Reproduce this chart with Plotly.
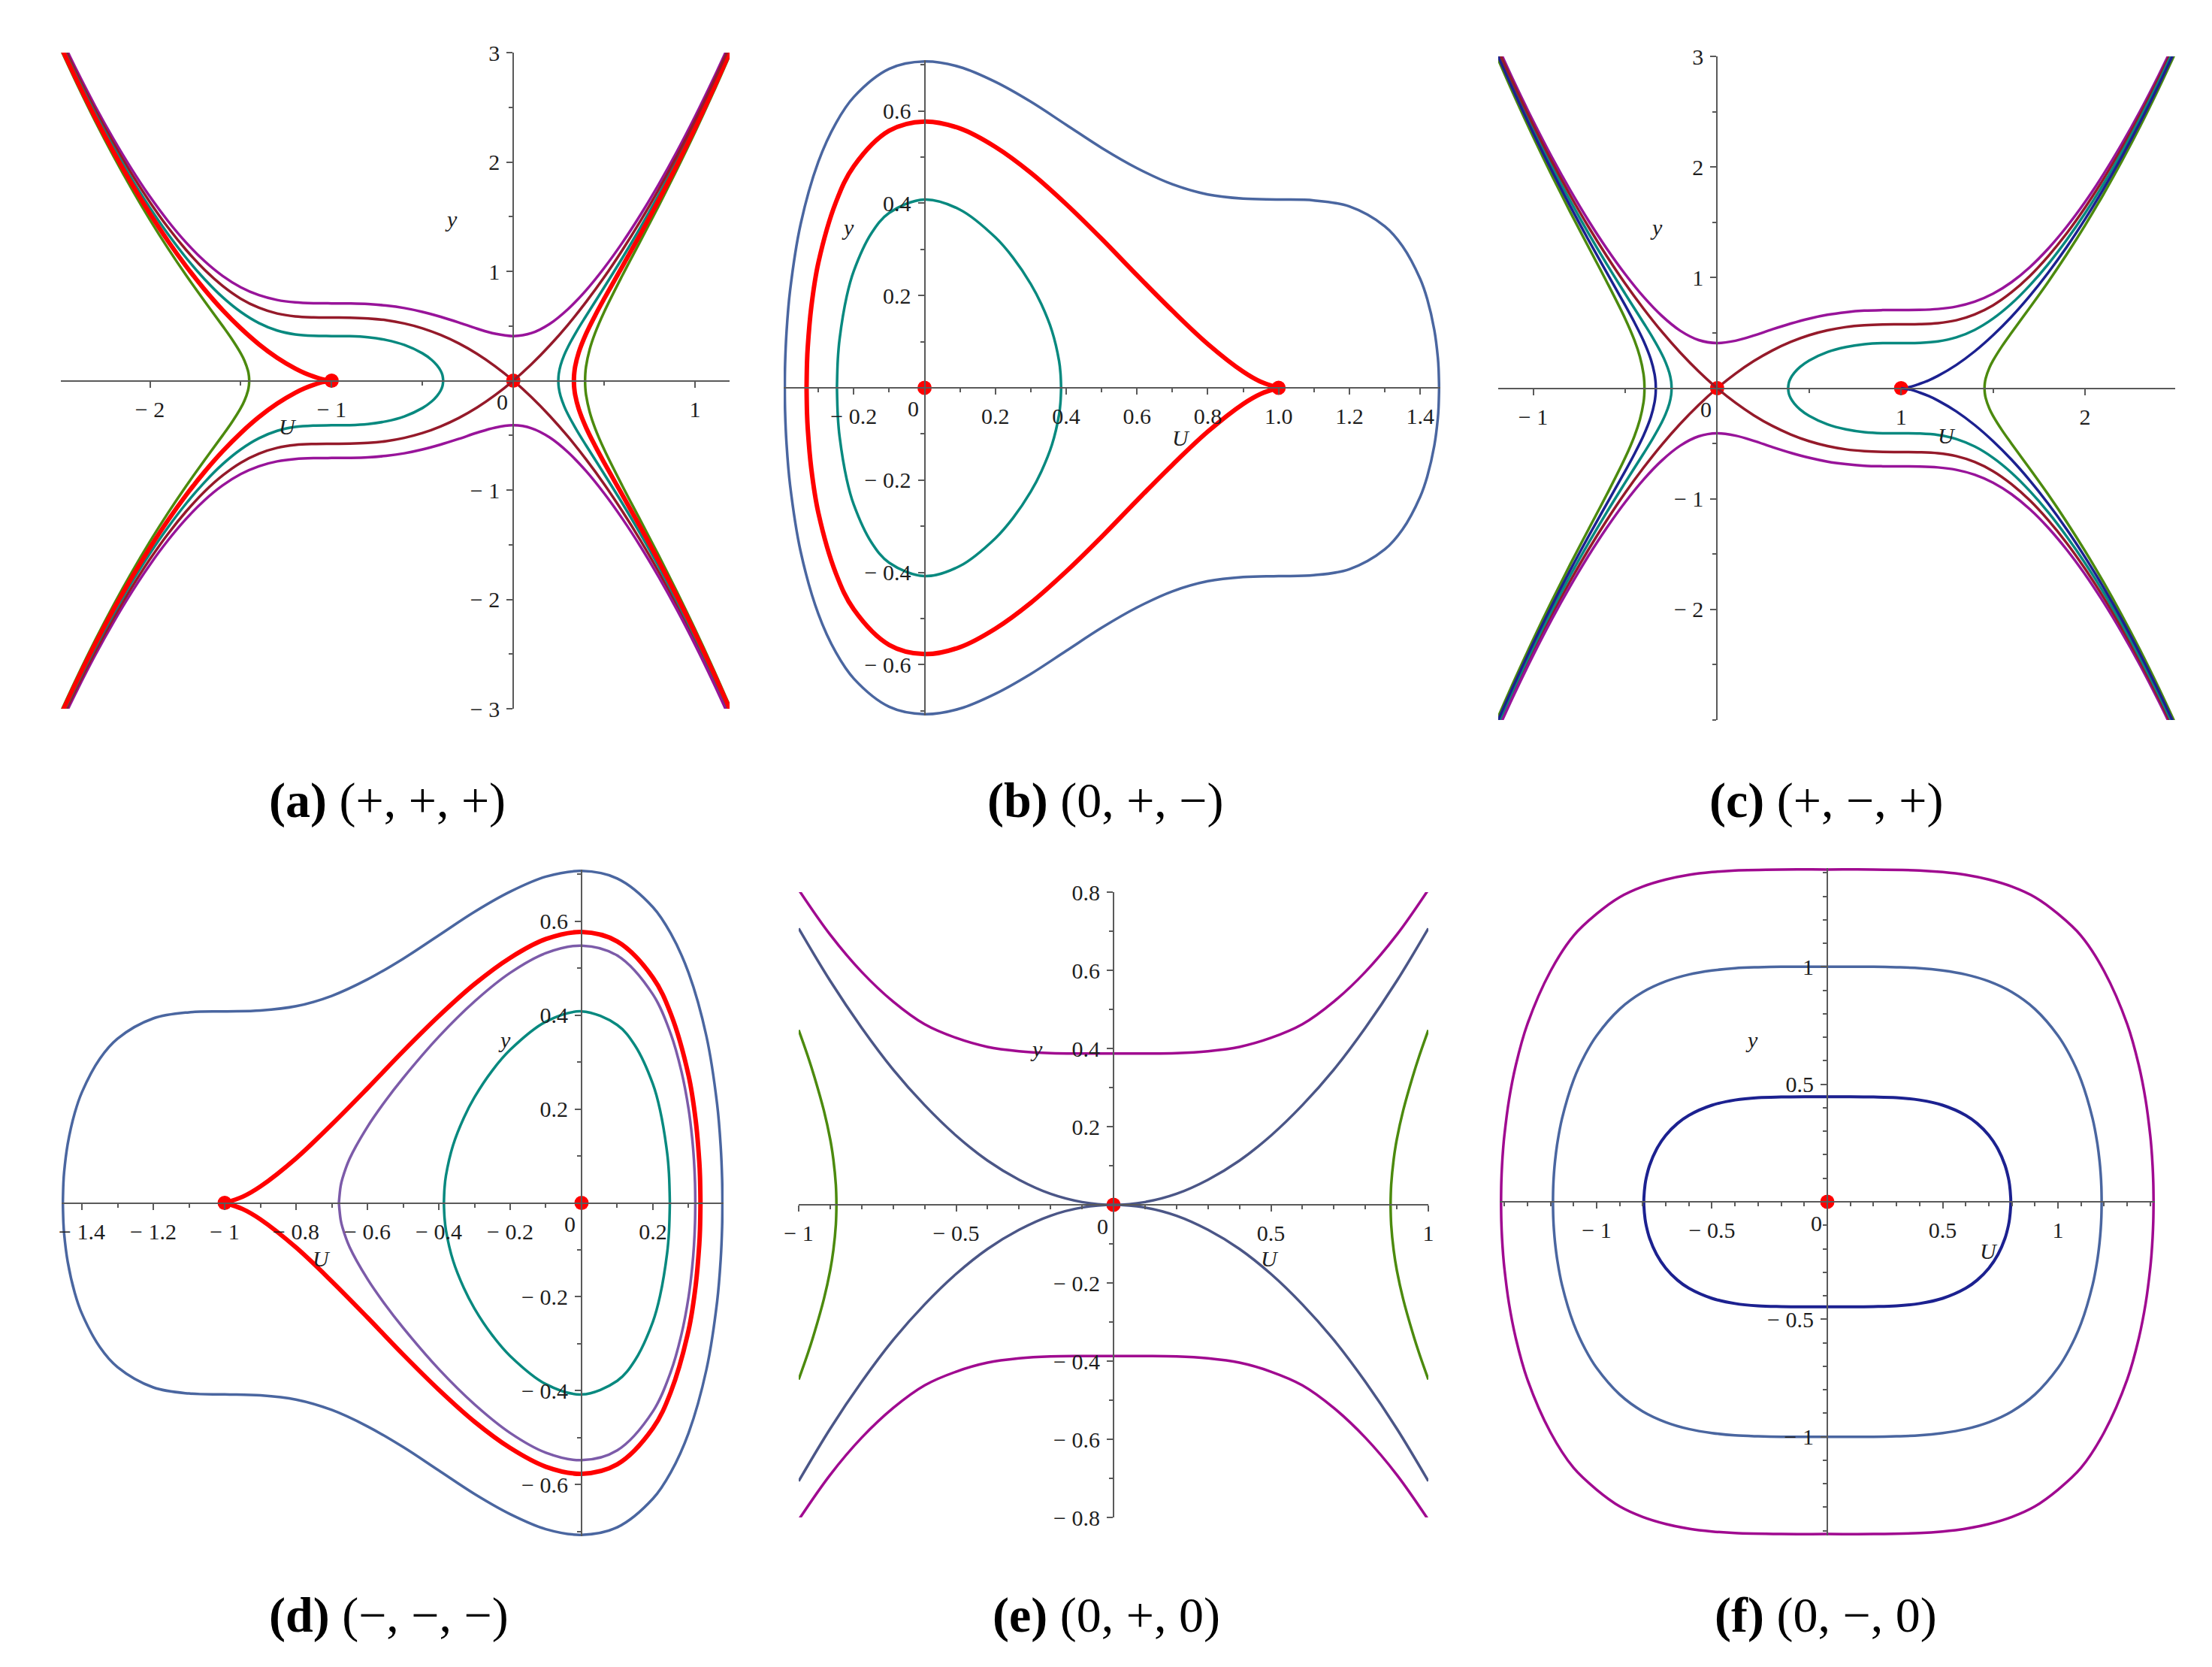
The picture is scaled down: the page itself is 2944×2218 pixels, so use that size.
import plotly.graph_objects as go

W, H = 2944, 2218

# colours
PURPLE = "#98149a"
MAROON = "#951a2a"
TEAL = "#08897f"
RED = "#ff0000"
GREEN = "#4c8a0e"
NAVY = "#1c2190"
STEEL = "#4a66a0"
VIOLET = "#7c5ba9"
SLATE = "#4b5687"
MAGENTA = "#a00a90"
AXIS = "#5a5a5a"
TEXT = "#1e1e1e"
FONT = "Liberation Serif"
THIN, THICK = 3.5, 6

# ---------------------------------------------------------------------------
# Curve data (U, y). Only the upper half of every orbit is listed; the
# lower half is the mirror image and is drawn on a flipped y axis.
# ---------------------------------------------------------------------------

# (a) (+, +, +)
A_PURPLE = [(-2.5, 3.172), (-2.4, 2.829), (-2.3, 2.507), (-2.2, 2.209), (-2.1, 1.934), (-2.0, 1.683),
            (-1.9, 1.459), (-1.8, 1.262), (-1.7, 1.094), (-1.6, 0.958), (-1.5, 0.854), (-1.4, 0.782),
            (-1.3, 0.738), (-1.2, 0.716), (-1.1, 0.708), (-1.0, 0.707), (-0.9, 0.706), (-0.8, 0.701),
            (-0.7, 0.687), (-0.6, 0.664), (-0.5, 0.629), (-0.4, 0.584), (-0.3, 0.532), (-0.2, 0.476),
            (-0.1, 0.429), (0.0, 0.408), (0.1, 0.435), (0.2, 0.519), (0.3, 0.653), (0.4, 0.826),
            (0.5, 1.031), (0.6, 1.262), (0.7, 1.517), (0.8, 1.795), (0.9, 2.094), (1.0, 2.415),
            (1.1, 2.757), (1.2, 3.119)]
A_MAROON = [(-2.5, 3.146), (-2.4, 2.799), (-2.3, 2.474), (-2.2, 2.171), (-2.1, 1.890), (-2.0, 1.633),
            (-1.9, 1.400), (-1.8, 1.194), (-1.7, 1.015), (-1.6, 0.867), (-1.5, 0.750), (-1.4, 0.667),
            (-1.3, 0.614), (-1.2, 0.588), (-1.1, 0.579), (-1.0, 0.577), (-0.9, 0.576), (-0.8, 0.569),
            (-0.7, 0.553), (-0.6, 0.523), (-0.5, 0.479), (-0.4, 0.418), (-0.3, 0.341), (-0.2, 0.246),
            (-0.1, 0.132), (0.0, 0.0), (0.1, -0.151), (0.2, -0.321), (0.3, -0.510), (0.4, -0.719),
            (0.5, -0.946), (0.6, -1.194), (0.7, -1.461), (0.8, -1.748), (0.9, -2.054), (1.0, -2.380),
            (1.1, -2.726), (1.2, -3.092)]
A_TEAL_L = [(-2.5, 3.119), (-2.4, 2.769), (-2.3, 2.440), (-2.2, 2.132), (-2.1, 1.845), (-2.0, 1.581),
            (-1.9, 1.340), (-1.8, 1.122), (-1.7, 0.930), (-1.6, 0.764), (-1.5, 0.629), (-1.4, 0.527),
            (-1.3, 0.459), (-1.2, 0.423), (-1.1, 0.410), (-1.0, 0.408), (-0.9, 0.407), (-0.8, 0.397),
            (-0.7, 0.372), (-0.6, 0.327), (-0.5, 0.250), (-0.45, 0.191), (-0.42, 0.140), (-0.40, 0.091),
            (-0.39, 0.050), (-0.386, 0.0)]
A_TEAL_R = [(0.2475, 0.0), (0.25, 0.062), (0.26, 0.141), (0.28, 0.234), (0.3, 0.306), (0.35, 0.456),
            (0.4, 0.591), (0.5, 0.854), (0.6, 1.122), (0.7, 1.403), (0.8, 1.699), (0.9, 2.013),
            (1.0, 2.345), (1.1, 2.696), (1.2, 3.065)]
A_RED_L = [(-2.5, 3.092), (-2.4, 2.739), (-2.3, 2.405), (-2.2, 2.092), (-2.1, 1.800), (-2.0, 1.528),
           (-1.9, 1.276), (-1.8, 1.045), (-1.7, 0.835), (-1.6, 0.646), (-1.5, 0.479), (-1.4, 0.333),
           (-1.3, 0.210), (-1.2, 0.111), (-1.15, 0.071), (-1.1, 0.039), (-1.05, 0.013), (-1.0, 0.0)]
A_RED_R = [(0.3333, 0.0), (0.334, 0.041), (0.335, 0.063), (0.34, 0.127), (0.36, 0.259), (0.4, 0.428),
           (0.45, 0.596), (0.5, 0.750), (0.6, 1.045), (0.7, 1.342), (0.8, 1.650), (0.9, 1.972),
           (1.0, 2.309), (1.1, 2.665), (1.2, 3.038)]
A_GREEN_L = [(-2.5, 3.065), (-2.4, 2.708), (-2.3, 2.370), (-2.2, 2.052), (-2.1, 1.753), (-2.0, 1.472),
             (-1.9, 1.209), (-1.8, 0.962), (-1.7, 0.729), (-1.6, 0.501), (-1.55, 0.383), (-1.5, 0.250),
             (-1.48, 0.184), (-1.46, 0.089), (-1.455, 0.042), (-1.4535, 0.0)]
A_GREEN_R = [(0.3948, 0.0), (0.396, 0.061), (0.40, 0.128), (0.42, 0.285), (0.45, 0.435), (0.5, 0.629),
             (0.6, 0.962), (0.7, 1.279), (0.8, 1.598), (0.9, 1.929), (1.0, 2.273), (1.1, 2.633),
             (1.2, 3.010)]
A_DOTS = [(-1.0, 0.0), (0.0, 0.0)]

# (b) (0, +, -)
B_BLUE = [(-0.3948, 0.0), (-0.394, 0.050), (-0.39, 0.120), (-0.38, 0.210), (-0.35, 0.355), (-0.3, 0.490),
          (-0.25, 0.574), (-0.2, 0.630), (-0.1, 0.691), (0.0, 0.707), (0.1, 0.695), (0.2, 0.663),
          (0.3, 0.620), (0.4, 0.570), (0.5, 0.520), (0.6, 0.476), (0.7, 0.441), (0.8, 0.419),
          (0.9, 0.410), (1.0, 0.408), (1.1, 0.406), (1.2, 0.393), (1.3, 0.350), (1.35, 0.307),
          (1.4, 0.236), (1.42, 0.192), (1.44, 0.125), (1.45, 0.065), (1.452, 0.042), (1.4535, 0.0)]
B_RED = [(-0.3333, 0.0), (-0.332, 0.056), (-0.33, 0.088), (-0.32, 0.175), (-0.3, 0.271), (-0.25, 0.403),
         (-0.2, 0.480), (-0.1, 0.557), (0.0, 0.577), (0.1, 0.562), (0.2, 0.522), (0.3, 0.466),
         (0.4, 0.398), (0.5, 0.323), (0.6, 0.244), (0.7, 0.167), (0.8, 0.095), (0.9, 0.035),
         (0.95, 0.013), (1.0, 0.0)]
B_TEAL = [(-0.2475, 0.0), (-0.245, 0.062), (-0.24, 0.106), (-0.22, 0.198), (-0.2, 0.253), (-0.15, 0.335),
          (-0.1, 0.379), (0.0, 0.408), (0.1, 0.386), (0.2, 0.326), (0.25, 0.282), (0.3, 0.225),
          (0.33, 0.181), (0.36, 0.123), (0.38, 0.058), (0.384, 0.031), (0.3857, 0.0)]
B_DOTS = [(0.0, 0.0), (1.0, 0.0)]

# (c) (+, -, +)
C_PURPLE = [(2.5, 3.172), (2.4, 2.829), (2.3, 2.507), (2.2, 2.209), (2.1, 1.934), (2.0, 1.683),
            (1.9, 1.459), (1.8, 1.262), (1.7, 1.094), (1.6, 0.958), (1.5, 0.854), (1.4, 0.782),
            (1.3, 0.738), (1.2, 0.716), (1.1, 0.708), (1.0, 0.707), (0.9, 0.706), (0.8, 0.701),
            (0.7, 0.687), (0.6, 0.664), (0.5, 0.629), (0.4, 0.584), (0.3, 0.532), (0.2, 0.476),
            (0.1, 0.429), (0.0, 0.408), (-0.1, 0.435), (-0.2, 0.519), (-0.3, 0.653), (-0.4, 0.826),
            (-0.5, 1.031), (-0.6, 1.262), (-0.7, 1.517), (-0.8, 1.795), (-0.9, 2.094), (-1.0, 2.415),
            (-1.1, 2.757), (-1.2, 3.119)]
C_MAROON = [(2.5, 3.146), (2.4, 2.799), (2.3, 2.474), (2.2, 2.171), (2.1, 1.890), (2.0, 1.633),
            (1.9, 1.400), (1.8, 1.194), (1.7, 1.015), (1.6, 0.867), (1.5, 0.750), (1.4, 0.667),
            (1.3, 0.614), (1.2, 0.588), (1.1, 0.579), (1.0, 0.577), (0.9, 0.576), (0.8, 0.569),
            (0.7, 0.553), (0.6, 0.523), (0.5, 0.479), (0.4, 0.418), (0.3, 0.341), (0.2, 0.246),
            (0.1, 0.132), (0.0, 0.0), (-0.1, -0.151), (-0.2, -0.321), (-0.3, -0.510), (-0.4, -0.719),
            (-0.5, -0.946), (-0.6, -1.194), (-0.7, -1.461), (-0.8, -1.748), (-0.9, -2.054), (-1.0, -2.380),
            (-1.1, -2.726), (-1.2, -3.092)]
C_TEAL_R = [(2.5, 3.119), (2.4, 2.769), (2.3, 2.440), (2.2, 2.132), (2.1, 1.845), (2.0, 1.581),
            (1.9, 1.340), (1.8, 1.122), (1.7, 0.930), (1.6, 0.764), (1.5, 0.629), (1.4, 0.527),
            (1.3, 0.459), (1.2, 0.423), (1.1, 0.410), (1.0, 0.408), (0.9, 0.407), (0.8, 0.397),
            (0.7, 0.372), (0.6, 0.327), (0.5, 0.250), (0.45, 0.191), (0.42, 0.140), (0.40, 0.091),
            (0.39, 0.050), (0.386, 0.0)]
C_TEAL_L = [(-0.2475, 0.0), (-0.25, 0.062), (-0.26, 0.141), (-0.28, 0.234), (-0.3, 0.306), (-0.35, 0.456),
            (-0.4, 0.591), (-0.5, 0.854), (-0.6, 1.122), (-0.7, 1.403), (-0.8, 1.699), (-0.9, 2.013),
            (-1.0, 2.345), (-1.1, 2.696), (-1.2, 3.065)]
C_NAVY_R = [(2.5, 3.092), (2.4, 2.739), (2.3, 2.405), (2.2, 2.092), (2.1, 1.800), (2.0, 1.528),
            (1.9, 1.276), (1.8, 1.045), (1.7, 0.835), (1.6, 0.646), (1.5, 0.479), (1.4, 0.333),
            (1.3, 0.210), (1.2, 0.111), (1.15, 0.071), (1.1, 0.039), (1.05, 0.013), (1.0, 0.0)]
C_NAVY_L = [(-0.3333, 0.0), (-0.334, 0.041), (-0.335, 0.063), (-0.34, 0.127), (-0.36, 0.259), (-0.4, 0.428),
            (-0.45, 0.596), (-0.5, 0.750), (-0.6, 1.045), (-0.7, 1.342), (-0.8, 1.650), (-0.9, 1.972),
            (-1.0, 2.309), (-1.1, 2.665), (-1.2, 3.038)]
C_GREEN_R = [(2.5, 3.065), (2.4, 2.708), (2.3, 2.370), (2.2, 2.052), (2.1, 1.753), (2.0, 1.472),
             (1.9, 1.209), (1.8, 0.962), (1.7, 0.729), (1.6, 0.501), (1.55, 0.383), (1.5, 0.250),
             (1.48, 0.184), (1.46, 0.089), (1.455, 0.042), (1.4535, 0.0)]
C_GREEN_L = [(-0.3948, 0.0), (-0.396, 0.061), (-0.40, 0.128), (-0.42, 0.285), (-0.45, 0.435), (-0.5, 0.629),
             (-0.6, 0.962), (-0.7, 1.279), (-0.8, 1.598), (-0.9, 1.929), (-1.0, 2.273), (-1.1, 2.633),
             (-1.2, 3.010)]
C_DOTS = [(0.0, 0.0), (1.0, 0.0)]

# (d) (-, -, -)
D_BLUE = [(0.3948, 0.0), (0.394, 0.050), (0.39, 0.120), (0.38, 0.210), (0.35, 0.355), (0.3, 0.490),
          (0.25, 0.574), (0.2, 0.630), (0.1, 0.691), (0.0, 0.707), (-0.1, 0.695), (-0.2, 0.663),
          (-0.3, 0.620), (-0.4, 0.570), (-0.5, 0.520), (-0.6, 0.476), (-0.7, 0.441), (-0.8, 0.419),
          (-0.9, 0.410), (-1.0, 0.408), (-1.1, 0.406), (-1.2, 0.393), (-1.3, 0.350), (-1.35, 0.307),
          (-1.4, 0.236), (-1.42, 0.192), (-1.44, 0.125), (-1.45, 0.065), (-1.452, 0.042), (-1.4535, 0.0)]
D_RED = [(0.3333, 0.0), (0.332, 0.056), (0.33, 0.088), (0.32, 0.175), (0.3, 0.271), (0.25, 0.403),
         (0.2, 0.480), (0.1, 0.557), (0.0, 0.577), (-0.1, 0.562), (-0.2, 0.522), (-0.3, 0.466),
         (-0.4, 0.398), (-0.5, 0.323), (-0.6, 0.244), (-0.7, 0.167), (-0.8, 0.095), (-0.9, 0.035),
         (-0.95, 0.013), (-1.0, 0.0)]
D_VIOLET = [(-0.68, 0.0), (-0.675, 0.036), (-0.67, 0.052), (-0.65, 0.094), (-0.6, 0.162), (-0.55, 0.217),
            (-0.5, 0.266), (-0.4, 0.354), (-0.3, 0.429), (-0.2, 0.490), (-0.1, 0.532), (0.0, 0.548),
            (0.1, 0.527), (0.2, 0.444), (0.25, 0.360), (0.28, 0.280), (0.3, 0.200), (0.31, 0.138),
            (0.315, 0.092), (0.318, 0.042), (0.3188, 0.0)]
D_TEAL = [(0.2475, 0.0), (0.245, 0.062), (0.24, 0.106), (0.22, 0.198), (0.2, 0.253), (0.15, 0.335),
          (0.1, 0.379), (0.0, 0.408), (-0.1, 0.386), (-0.2, 0.326), (-0.25, 0.282), (-0.3, 0.225),
          (-0.33, 0.181), (-0.36, 0.123), (-0.38, 0.058), (-0.384, 0.031), (-0.3857, 0.0)]
D_DOTS = [(-1.0, 0.0), (0.0, 0.0)]

# (e) (0, +, 0)
E_PURPLE = [(-1.0, 0.806), (-0.9, 0.691), (-0.8, 0.596), (-0.7, 0.520), (-0.6, 0.462), (-0.5, 0.427),
            (-0.4, 0.404), (-0.3, 0.393), (-0.2, 0.388), (-0.1, 0.387), (0.0, 0.387), (0.1, 0.387),
            (0.2, 0.388), (0.3, 0.393), (0.4, 0.404), (0.5, 0.427), (0.6, 0.462), (0.7, 0.520),
            (0.8, 0.596), (0.9, 0.691), (1.0, 0.806)]
E_SLATE = [(-1.0, 0.707), (-0.9, 0.573), (-0.8, 0.453), (-0.7, 0.346), (-0.6, 0.255), (-0.5, 0.177),
           (-0.4, 0.113), (-0.3, 0.064), (-0.2, 0.028), (-0.1, 0.007), (0.0, 0.0), (0.1, 0.007),
           (0.2, 0.028), (0.3, 0.064), (0.4, 0.113), (0.5, 0.177), (0.6, 0.255), (0.7, 0.346),
           (0.8, 0.453), (0.9, 0.573), (1.0, 0.707)]
E_GREEN_R = [(0.8801, 0.0), (0.882, 0.051), (0.89, 0.117), (0.9, 0.168), (0.92, 0.241), (0.95, 0.327),
             (0.97, 0.378), (1.0, 0.447)]
E_GREEN_L = [(-0.8801, 0.0), (-0.882, 0.051), (-0.89, 0.117), (-0.9, 0.168), (-0.92, 0.241), (-0.95, 0.327),
             (-0.97, 0.378), (-1.0, 0.447)]
E_DOTS = [(0.0, 0.0)]

# (f) (0, -, 0)
F_NAVY = [(-0.7953, 0.0), (-0.795, 0.017), (-0.79, 0.073), (-0.785, 0.101), (-0.77, 0.156), (-0.74, 0.224),
          (-0.7, 0.283), (-0.65, 0.333), (-0.6, 0.368), (-0.5, 0.411), (-0.4, 0.433), (-0.3, 0.443),
          (-0.2, 0.446), (-0.1, 0.447), (0.0, 0.447), (0.1, 0.447), (0.2, 0.446), (0.3, 0.443),
          (0.4, 0.433), (0.5, 0.411), (0.6, 0.368), (0.65, 0.333), (0.7, 0.283), (0.74, 0.224),
          (0.77, 0.156), (0.785, 0.101), (0.79, 0.073), (0.795, 0.017), (0.7953, 0.0)]
F_STEEL = [(-1.1892, 0.0), (-1.188, 0.064), (-1.185, 0.119), (-1.18, 0.175), (-1.17, 0.251), (-1.15, 0.354),
           (-1.1, 0.518), (-1.05, 0.626), (-1.0, 0.707), (-0.9, 0.820), (-0.8, 0.892), (-0.7, 0.938),
           (-0.6, 0.967), (-0.5, 0.984), (-0.4, 0.994), (-0.3, 0.998), (-0.2, 1.0), (0.0, 1.0),
           (0.2, 1.0), (0.3, 0.998), (0.4, 0.994), (0.5, 0.984), (0.6, 0.967), (0.7, 0.938),
           (0.8, 0.892), (0.9, 0.820), (1.0, 0.707), (1.05, 0.626), (1.1, 0.518), (1.15, 0.354),
           (1.17, 0.251), (1.18, 0.175), (1.185, 0.119), (1.188, 0.064), (1.1892, 0.0)]
F_MAGENTA = [(-1.4142, 0.0), (-1.413, 0.082), (-1.41, 0.154), (-1.405, 0.228), (-1.4, 0.281), (-1.38, 0.432),
             (-1.35, 0.582), (-1.3, 0.756), (-1.2, 0.981), (-1.1, 1.132), (-1.0, 1.225), (-0.9, 1.296),
             (-0.8, 1.341), (-0.7, 1.371), (-0.6, 1.391), (-0.5, 1.403), (-0.4, 1.410), (-0.2, 1.414),
             (0.0, 1.414), (0.2, 1.414), (0.4, 1.410), (0.5, 1.403), (0.6, 1.391), (0.7, 1.371),
             (0.8, 1.341), (0.9, 1.296), (1.0, 1.225), (1.1, 1.132), (1.2, 0.981), (1.3, 0.756),
             (1.35, 0.582), (1.38, 0.432), (1.4, 0.281), (1.405, 0.228), (1.41, 0.154), (1.413, 0.082),
             (1.4142, 0.0)]
F_DOTS = [(0.0, 0.0)]

# tick labels
A_XTICKS, A_XTEXT = [-2, -1, 1], ["− 2", "− 1", "1"]
A_YTICKS, A_YTEXT = [-3, -2, -1, 1, 2, 3], ["− 3", "− 2", "− 1", "1", "2", "3"]
B_XTICKS = [-0.2, 0.2, 0.4, 0.6, 0.8, 1.0, 1.2, 1.4]
B_XTEXT = ["− 0.2", "0.2", "0.4", "0.6", "0.8", "1.0", "1.2", "1.4"]
B_YTICKS = [-0.6, -0.4, -0.2, 0.2, 0.4, 0.6]
B_YTEXT = ["− 0.6", "− 0.4", "− 0.2", "0.2", "0.4", "0.6"]
C_XTICKS, C_XTEXT = [-1, 1, 2], ["− 1", "1", "2"]
C_YTICKS, C_YTEXT = [-2, -1, 1, 2, 3], ["− 2", "− 1", "1", "2", "3"]
D_XTICKS = [-1.4, -1.2, -1.0, -0.8, -0.6, -0.4, -0.2, 0.2]
D_XTEXT = ["− 1.4", "− 1.2", "− 1", "− 0.8", "− 0.6", "− 0.4", "− 0.2", "0.2"]
D_YTICKS, D_YTEXT = B_YTICKS, B_YTEXT
E_XTICKS, E_XTEXT = [-1, -0.5, 0.5, 1], ["− 1", "− 0.5", "0.5", "1"]
E_YTICKS = [-0.8, -0.6, -0.4, -0.2, 0.2, 0.4, 0.6, 0.8]
E_YTEXT = ["− 0.8", "− 0.6", "− 0.4", "− 0.2", "0.2", "0.4", "0.6", "0.8"]
F_XTICKS, F_XTEXT = [-1, -0.5, 0.5, 1], ["− 1", "− 0.5", "0.5", "1"]
F_YTICKS, F_YTEXT = [-1, -0.5, 0.5, 1], ["− 1", "− 0.5", "0.5", "1"]

CAPTIONS = ["<b>(a)</b> (+, +, +)", "<b>(b)</b> (0, +, −)", "<b>(c)</b> (+, −, +)",
            "<b>(d)</b> (−, −, −)", "<b>(e)</b> (0, +, 0)", "<b>(f)</b> (0, −, 0)"]

# layout of each panel: box = (left, right, top, bottom) in pixels
PANELS = [
    dict(box=(73, 963, 62, 935), xr=[-2.49, 1.19], yr=[-3, 3],
         xt=(A_XTICKS, A_XTEXT), yt=(A_YTICKS, A_YTEXT), minor=(0.5, 0.5),
         ulab=(-1.24, -0.42), ylab=(-0.34, 1.48), cap=(507, 1057), dots=A_DOTS,
         curves=[(A_GREEN_L, GREEN, THIN), (A_GREEN_R, GREEN, THIN), (A_PURPLE, PURPLE, THIN),
                 (A_MAROON, MAROON, THIN), (A_TEAL_L, TEAL, THIN), (A_TEAL_R, TEAL, THIN),
                 (A_RED_L, RED, THICK), (A_RED_R, RED, THICK)]),
    dict(box=(1035, 1909, 72, 944), xr=[-0.398, 1.457], yr=[-0.71, 0.71],
         xt=(B_XTICKS, B_XTEXT), yt=(B_YTICKS, B_YTEXT), minor=(0.1, 0.1),
         ulab=(0.725, -0.108), ylab=(-0.216, 0.347), cap=(1463, 1057), dots=B_DOTS,
         curves=[(B_BLUE, STEEL, THIN), (B_TEAL, TEAL, THIN), (B_RED, RED, THICK)]),
    dict(box=(1986, 2887, 67, 950), xr=[-1.19, 2.49], yr=[-3, 3],
         xt=(C_XTICKS, C_XTEXT), yt=(C_YTICKS, C_YTEXT), minor=(0.5, 0.5),
         ulab=(1.247, -0.43), ylab=(-0.33, 1.453), cap=(2422, 1057), dots=C_DOTS,
         curves=[(C_GREEN_L, GREEN, THIN), (C_GREEN_R, GREEN, THIN), (C_PURPLE, PURPLE, THIN),
                 (C_MAROON, MAROON, THIN), (C_TEAL_L, TEAL, THIN), (C_TEAL_R, TEAL, THIN),
                 (C_NAVY_L, NAVY, THIN), (C_NAVY_R, NAVY, THIN)]),
    dict(box=(74, 955, 1149, 2036), xr=[-1.457, 0.398], yr=[-0.71, 0.71],
         xt=(D_XTICKS, D_XTEXT), yt=(D_YTICKS, D_YTEXT), minor=(0.1, 0.1),
         ulab=(-0.728, -0.118), ylab=(-0.215, 0.347), cap=(509, 2141), dots=D_DOTS,
         curves=[(D_BLUE, STEEL, THIN), (D_TEAL, TEAL, THIN), (D_VIOLET, VIOLET, THIN),
                 (D_RED, RED, THICK)]),
    dict(box=(1055, 1893, 1179, 2011), xr=[-1.0, 1.0], yr=[-0.8, 0.8],
         xt=(E_XTICKS, E_XTEXT), yt=(E_YTICKS, E_YTEXT), minor=(0.1, 0.1),
         ulab=(0.4975, -0.138), ylab=(-0.245, 0.40), cap=(1464, 2141), dots=E_DOTS,
         curves=[(E_PURPLE, MAGENTA, THIN), (E_SLATE, SLATE, THIN), (E_GREEN_L, GREEN, THIN),
                 (E_GREEN_R, GREEN, THIN)]),
    dict(box=(1988, 2860, 1147, 2035), xr=[-1.42, 1.42], yr=[-1.42, 1.42],
         xt=(F_XTICKS, F_XTEXT), yt=(F_YTICKS, F_YTEXT), minor=(0.1, 0.1),
         ulab=(0.70, -0.21), ylab=(-0.326, 0.69), cap=(2422, 2141), dots=F_DOTS,
         curves=[(F_MAGENTA, MAGENTA, THIN), (F_STEEL, STEEL, THIN), (F_NAVY, NAVY, 4)]),
]


def split(pts):
    return [p[0] for p in pts], [p[1] for p in pts]


fig = go.Figure()
layout = dict(width=W, height=H, margin=dict(l=0, r=0, t=0, b=0, autoexpand=False),
              paper_bgcolor="white", plot_bgcolor="white", showlegend=False)
annotations = []
tickfont = dict(family=FONT, size=30, color=TEXT)

for i, p in enumerate(PANELS, start=1):
    xid = "x" if i == 1 else f"x{i}"
    yid = "y" if i == 1 else f"y{i}"
    mid = f"y{i + 6}"
    left, right, top, bottom = p["box"]
    xdom = [left / W, right / W]
    ydom = [1 - bottom / H, 1 - top / H]
    (x0, x1), (y0, y1) = p["xr"], p["yr"]
    # Maple-style axes cross at the origin
    xpos = xdom[0] + (0 - x0) / (x1 - x0) * (xdom[1] - xdom[0])
    ypos = ydom[0] + (0 - y0) / (y1 - y0) * (ydom[1] - ydom[0])
    common = dict(showline=True, linecolor=AXIS, linewidth=2, ticks="outside", ticklen=8,
                  tickwidth=2, tickcolor=AXIS, tickmode="array", tickfont=tickfont,
                  showgrid=False, zeroline=False, fixedrange=True, ticklabelstandoff=3)
    layout["xaxis" + xid[1:]] = dict(
        common, domain=xdom, range=p["xr"], anchor="free", position=ypos, side="bottom",
        tickvals=p["xt"][0], ticktext=p["xt"][1],
        minor=dict(ticks="outside", ticklen=5, tickwidth=1.5, tickcolor=AXIS,
                   tick0=0, dtick=p["minor"][0], showgrid=False))
    layout["yaxis" + yid[1:]] = dict(
        common, domain=ydom, range=p["yr"], anchor="free", position=xpos, side="left",
        tickvals=p["yt"][0], ticktext=p["yt"][1],
        minor=dict(ticks="outside", ticklen=5, tickwidth=1.5, tickcolor=AXIS,
                   tick0=0, dtick=p["minor"][1], showgrid=False))
    # flipped copy of the y axis: draws the lower (mirror) half of each orbit
    layout["yaxis" + mid[1:]] = dict(overlaying=yid, range=[y1, y0], anchor=xid,
                                     visible=False, fixedrange=True)

    for pts, color, width in p["curves"]:
        u, v = split(pts)
        for ax in (yid, mid):
            fig.add_trace(go.Scatter(x=u, y=v, xaxis=xid, yaxis=ax, mode="lines",
                                     line=dict(color=color, width=width, shape="spline", smoothing=1),
                                     hoverinfo="skip"))
    du, dv = split(p["dots"])
    fig.add_trace(go.Scatter(x=du, y=dv, xaxis=xid, yaxis=yid, mode="markers",
                             marker=dict(color=RED, size=19), hoverinfo="skip", cliponaxis=False))

    annotations += [
        dict(x=0, y=0, xref=xid, yref=yid, text="0", showarrow=False, font=tickfont,
             xshift=-15, yshift=-28),
        dict(x=p["ulab"][0], y=p["ulab"][1], xref=xid, yref=yid, text="<i>U</i>",
             showarrow=False, font=tickfont),
        dict(x=p["ylab"][0], y=p["ylab"][1], xref=xid, yref=yid, text="<i>y</i>",
             showarrow=False, font=tickfont),
        dict(x=p["cap"][0] / W, y=1 - p["cap"][1] / H, xref="paper", yref="paper",
             text=CAPTIONS[i - 1], showarrow=False, xanchor="center", yanchor="middle",
             font=dict(family=FONT, size=66, color="black")),
    ]

layout["annotations"] = annotations
fig.update_layout(**layout)
fig.write_html("out.html")
